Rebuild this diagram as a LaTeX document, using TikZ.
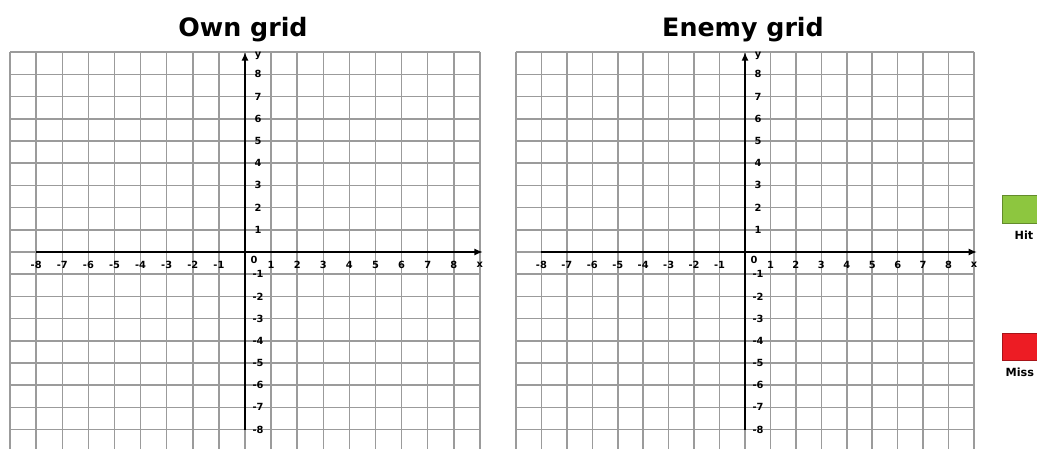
\documentclass[tikz,border=0pt]{standalone}
\usepackage{fontspec}
\setmainfont{DejaVu Sans}
\usetikzlibrary{positioning, arrows.meta}
\definecolor{grisgrille}{RGB}{155,155,155}
\definecolor{vertjeu}{RGB}{141,198,63}
\definecolor{rougejeu}{RGB}{237,28,36}

\tikzset{
  grille/.style={grisgrille, line width=1.1pt},
  axe/.style={black, line width=1.3pt, -{Latex[length=6pt,width=5pt]}},
  graduation/.style={inner sep=0pt, font=\fontsize{7}{8}\selectfont\bfseries},
  titre/.style={font=\fontsize{18}{20}\selectfont\bfseries},
  legende/.style={minimum width=1.1cm, minimum height=0.68cm, line width=0.6pt},
  etiquette/.style={inner sep=0pt, font=\fontsize{8}{9}\selectfont\bfseries}
}

\begin{document}
\begin{tikzpicture}[x=0.025cm, y=0.025cm]
  \useasboundingbox (0,0) rectangle (1037,448);
  \clip (0,0) rectangle (1037,448);
  \foreach \ox/\cw/\titre/\nom in {245/26.1/Own grid/own, 745/25.45/Enemy grid/enemy}{
    \begin{scope}[shift={(\ox,196)}]
      % quadrillage
      \foreach \c in {-9,...,9}
        \draw[grille] ({\c*\cw},{-9*22.2}) -- ({\c*\cw},{9*22.2});
      \foreach \r in {-9,...,9}
        \draw[grille] ({-9*\cw},{\r*22.2}) -- ({9*\cw},{\r*22.2});
      % axes
      \coordinate (\nom-xg) at ({-8*\cw},0);
      \coordinate (\nom-xd) at ({9*\cw+3},0);
      \coordinate (\nom-yb) at (0,{-8*22.2});
      \coordinate (\nom-yh) at (0,{9*22.2});
      \draw[axe] (\nom-xg) -- (\nom-xd);
      \draw[axe] (\nom-yb) -- (\nom-yh);
      % graduations
      \foreach \n in {-8,...,-1,1,2,...,8}{
        \node[graduation] (\nom-gx\n) at ({\n*\cw},-13) {\n};
        \node[graduation] (\nom-gy\n) at (13,{\n*22.2}) {\n};
      }
      \node[graduation] (\nom-zero) at (9,-8) {0};
      \node[graduation] (\nom-nomx) at ({9*\cw},-13) {x};
      \node[graduation] (\nom-nomy) at (13,{9*22.2-4}) {y};
      \node[titre] (\nom-titre) at (-2,222) {\titre};
    \end{scope}
  }
  % légende
  \node[legende, fill=vertjeu, draw=vertjeu!70!black] (hit) at (1024,238.5) {};
  \node[etiquette, below=5pt of hit] (hit-texte) {Hit};
  \node[legende, fill=rougejeu, draw=rougejeu!70!black] (miss) at (1024,101) {};
  \node[etiquette, below=5pt of miss, xshift=-3pt] (miss-texte) {Miss};
\end{tikzpicture}
\end{document}
